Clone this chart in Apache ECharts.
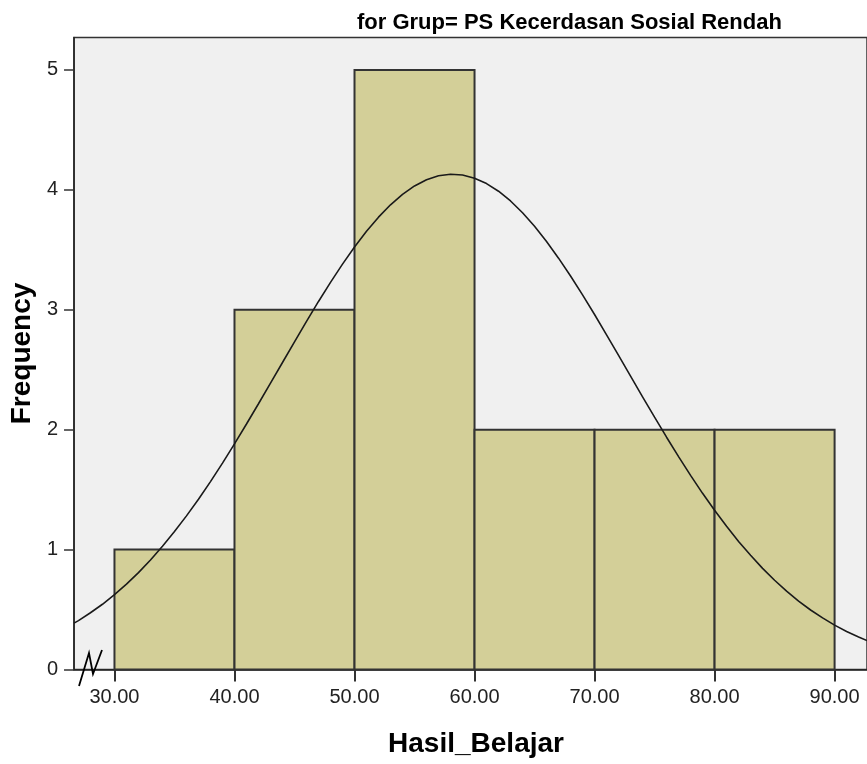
<!DOCTYPE html>
<html>
<head>
<meta charset="utf-8">
<script src="https://cdn.jsdelivr.net/npm/echarts@6/dist/echarts.min.js"></script>
<style>
  html, body { margin: 0; padding: 0; background: #fff; }
  #hist { width: 867px; height: 764px; }
</style>
</head>
<body>
<div id="hist"></div>
<script>
// histogram bins (lower bound) and frequencies
var binStarts = [30, 40, 50, 60, 70, 80];
var binWidth = 10;
var counts = [1, 3, 5, 2, 2, 2];

// normal curve
var curveX = [26.63, 27, 28, 29, 30, 31, 32, 33, 34, 35, 36, 37, 38, 39, 40, 41, 42, 43, 44, 45,
    46, 47, 48, 49, 50, 51, 52, 53, 54, 55, 56, 57, 58, 59, 60, 61, 62, 63, 64, 65,
    66, 67, 68, 69, 70, 71, 72, 73, 74, 75, 76, 77, 78, 79, 80, 81, 82, 83, 84, 85,
    86, 87, 88, 89, 90, 91, 92, 92.7];
var curveY = [0.387, 0.408, 0.473, 0.544, 0.624, 0.712, 0.808, 0.913, 1.028, 1.150, 1.281, 1.420, 1.567, 1.721, 1.882, 2.047, 2.216, 2.388, 2.560, 2.732,
    2.903, 3.069, 3.228, 3.380, 3.523, 3.654, 3.772, 3.875, 3.962, 4.032, 4.084, 4.117, 4.130, 4.123, 4.097, 4.052, 3.988, 3.907, 3.809, 3.696,
    3.569, 3.430, 3.281, 3.124, 2.960, 2.791, 2.619, 2.446, 2.274, 2.104, 1.937, 1.775, 1.619, 1.469, 1.328, 1.194, 1.068, 0.952, 0.843, 0.744,
    0.653, 0.570, 0.496, 0.430, 0.370, 0.317, 0.271, 0.241];

var xTicks = [30, 40, 50, 60, 70, 80, 90];

var chart = echarts.init(document.getElementById("hist"));

var barData = binStarts.map(function (s, i) {
    return [s, s + binWidth, counts[i]];
});
var curveData = curveX.map(function (x, i) {
    return [x, curveY[i]];
});

var option = {
    animation: false,
    title: {
        text: "for Grup= PS Kecerdasan Sosial Rendah",
        left: 357,
        top: 12,
        padding: 0,
        textStyle: {
            fontFamily: "Liberation Sans",
            fontWeight: "bold",
            fontSize: 22,
            color: "#000"
        }
    },
    grid: {
        left: 74,
        top: 37.5,
        right: 0,
        bottom: 94.5,
        show: true,
        backgroundColor: "#f0f0f0",
        borderColor: "#333",
        borderWidth: 1.5
    },
    xAxis: {
        type: "value",
        min: 26.63,
        max: 92.7,
        name: "Hasil_Belajar",
        nameLocation: "middle",
        nameGap: 61,
        nameTextStyle: {
            fontFamily: "Liberation Sans",
            fontWeight: "bold",
            fontSize: 28,
            color: "#000",
            padding: [0, 0, 0, 11]
        },
        axisLine: { lineStyle: { color: "#222", width: 1.5 } },
        axisTick: {
            customValues: xTicks,
            length: 12,
            lineStyle: { color: "#333", width: 2 }
        },
        axisLabel: {
            customValues: xTicks,
            margin: 18,
            fontFamily: "Liberation Sans",
            fontSize: 20,
            color: "#222",
            formatter: function (v) { return v.toFixed(2); }
        },
        splitLine: { show: false }
    },
    yAxis: {
        type: "value",
        min: 0,
        max: 5.27,
        interval: 1,
        name: "Frequency",
        nameLocation: "middle",
        nameGap: 36,
        nameTextStyle: {
            fontFamily: "Liberation Sans",
            fontWeight: "bold",
            fontSize: 28,
            color: "#000"
        },
        axisLine: { show: true, lineStyle: { color: "#222", width: 1.5 } },
        axisTick: { show: true, length: 10, lineStyle: { color: "#333", width: 1.5 } },
        axisLabel: {
            margin: 16,
            fontFamily: "Liberation Sans",
            fontSize: 20,
            color: "#222",
            showMaxLabel: false,
            formatter: function (v) { return Number.isInteger(v) ? String(v) : ""; }
        },
        splitLine: { show: false }
    },
    series: [
        {
            type: "custom",
            data: barData,
            encode: { x: [0, 1], y: 2 },
            renderItem: function (params, api) {
                var p0 = api.coord([api.value(0), api.value(2)]);
                var p1 = api.coord([api.value(1), 0]);
                return {
                    type: "rect",
                    shape: { x: p0[0], y: p0[1], width: p1[0] - p0[0], height: p1[1] - p0[1] },
                    style: { fill: "#d3cf98", stroke: "#333", lineWidth: 2 }
                };
            },
            z: 2
        },
        {
            type: "line",
            data: curveData,
            smooth: false,
            showSymbol: false,
            symbol: "none",
            clip: true,
            lineStyle: { color: "#1a1a1a", width: 1.6 },
            z: 3
        }
    ],
    graphic: [
        {
            type: "polyline",
            shape: { points: [[79, 686], [89, 653], [93, 674], [102, 650]] },
            style: { stroke: "#000", lineWidth: 1.8, fill: null },
            z: 100
        }
    ]
};

chart.setOption(option);
</script>
</body>
</html>
